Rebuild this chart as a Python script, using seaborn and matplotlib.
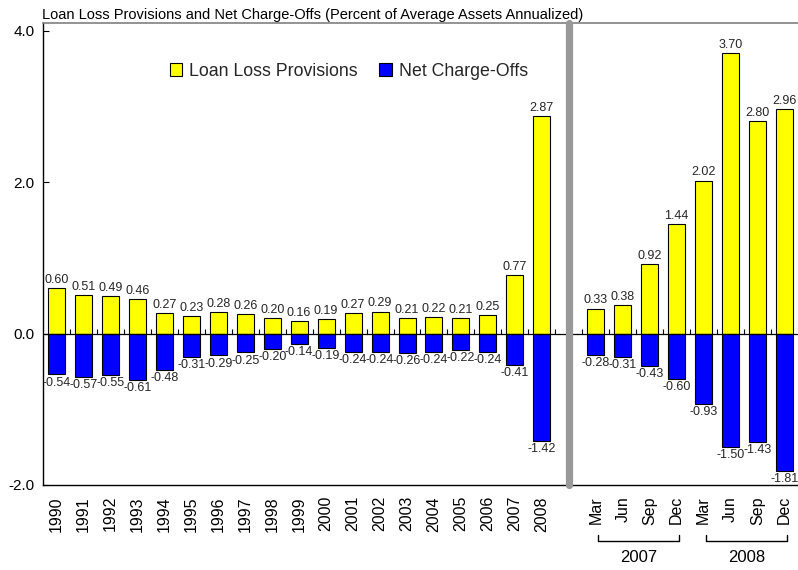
import pandas as pd
import matplotlib.pyplot as plt
import matplotlib.transforms as mtransforms
from matplotlib.patches import Patch
import seaborn as sns

# Annual data, 1990-2008
years = [str(y) for y in range(1990, 2009)]
llp_annual = [0.60, 0.51, 0.49, 0.46, 0.27, 0.23, 0.28, 0.26, 0.20, 0.16,
              0.19, 0.27, 0.29, 0.21, 0.22, 0.21, 0.25, 0.77, 2.87]
nco_annual = [-0.54, -0.57, -0.55, -0.61, -0.48, -0.31, -0.29, -0.25, -0.20, -0.14,
              -0.19, -0.24, -0.24, -0.26, -0.24, -0.22, -0.24, -0.41, -1.42]

# Quarterly data, 2007-2008
quarters = ['Mar', 'Jun', 'Sep', 'Dec', 'Mar', 'Jun', 'Sep', 'Dec']
quarter_years = ['2007'] * 4 + ['2008'] * 4
llp_quarter = [0.33, 0.38, 0.92, 1.44, 2.02, 3.70, 2.80, 2.96]
nco_quarter = [-0.28, -0.31, -0.43, -0.60, -0.93, -1.50, -1.43, -1.81]

series_names = ['Loan Loss Provisions', 'Net Charge-Offs']
colors = ['#FFFF00', '#0000FF']


def build_frame():
    # unique keys for the quarterly periods, blank slot between the two parts
    q_keys = [q + ' ' + y for q, y in zip(quarters, quarter_years)]
    order = years + ['gap'] + q_keys
    rows = []
    for key, a, b in zip(years + q_keys, llp_annual + llp_quarter, nco_annual + nco_quarter):
        rows.append({'period': key, 'series': series_names[0], 'value': a})
        rows.append({'period': key, 'series': series_names[1], 'value': b})
    return pd.DataFrame(rows), order


def create_chart(df, order):
    sns.set_theme(style='white')
    plt.rcParams['font.family'] = ['Liberation Sans', 'DejaVu Sans']

    fig = plt.figure(figsize=(7.98, 5.70), dpi=100)
    ax = fig.add_axes([43 / 798, 85 / 570, 755 / 798, 462 / 570])

    sns.barplot(data=df, x='period', y='value', hue='series', order=order,
                hue_order=series_names, palette=colors, saturation=1, dodge=False,
                width=0.63, edgecolor='black', linewidth=0.8, ax=ax, legend=False)

    for cont in ax.containers:
        ax.bar_label(cont, fmt='%.2f', padding=1.5, fontsize=9)

    ax.set_xlim(-0.5, len(order) - 0.5)
    ax.set_ylim(-2.0, 4.1)
    ax.set_yticks([-2.0, 0.0, 2.0, 4.0])
    ax.set_yticklabels(['-2.0', '0.0', '2.0', '4.0'])
    ax.tick_params(axis='y', direction='in', length=4, width=0.8, left=True,
                   labelsize=11, colors='black', pad=6)

    labels = years + [''] + quarters
    ax.set_xticks(range(len(order)))
    ax.set_xticklabels(labels, rotation=90)
    ax.tick_params(axis='x', length=0, labelsize=11.5, pad=8, colors='black')
    ax.set_xlabel('')
    ax.set_ylabel('')

    # zero line with small ticks between categories
    ax.axhline(0, color='black', linewidth=0.9, zorder=3)
    ax.vlines([i + 0.5 for i in range(len(order) - 1)], 0, 0.055,
              color='black', linewidth=0.8, zorder=3)

    # gray separator between annual and quarterly parts
    gap = order.index('gap')
    ax.axvline(gap, color='#999999', linewidth=5.2, zorder=4, clip_on=False)

    for side in ['left', 'bottom']:
        ax.spines[side].set_color('black')
        ax.spines[side].set_linewidth(1.0)
    ax.spines['top'].set_color('#808080')
    ax.spines['top'].set_linewidth(1.2)
    ax.spines['right'].set_visible(False)

    # year brackets under the quarterly labels
    trans = mtransforms.blended_transform_factory(ax.transData, ax.transAxes)
    for yr in ['2007', '2008']:
        idx = [order.index(q + ' ' + yr) for q in ['Mar', 'Dec']]
        x0, x1 = idx[0] + 0.1, idx[1] + 0.1
        ax.plot([x0, x0, x1, x1], [-0.108, -0.121, -0.121, -0.108], color='black',
                linewidth=1.0, transform=trans, clip_on=False)
        ax.text((x0 + x1) / 2, -0.156, yr, transform=trans, ha='center', va='center',
                fontsize=12, color='black')

    handles = [Patch(facecolor=c, edgecolor='black', linewidth=0.8) for c in colors]
    ax.legend(handles, series_names, ncol=2, frameon=False, loc='center',
              bbox_to_anchor=(0.405, 0.896), fontsize=12.8, handlelength=0.7,
              handleheight=0.7, handletextpad=0.4, columnspacing=1.2)

    fig.text(42 / 798, 1 - 15 / 570, 'Loan Loss Provisions and Net Charge-Offs '
             '(Percent of Average Assets Annualized)', fontsize=10.5, va='center',
             ha='left', color='black')

    fig.savefig('out.png', dpi=100)


if __name__ == "__main__":
    frame, period_order = build_frame()
    create_chart(frame, period_order)
